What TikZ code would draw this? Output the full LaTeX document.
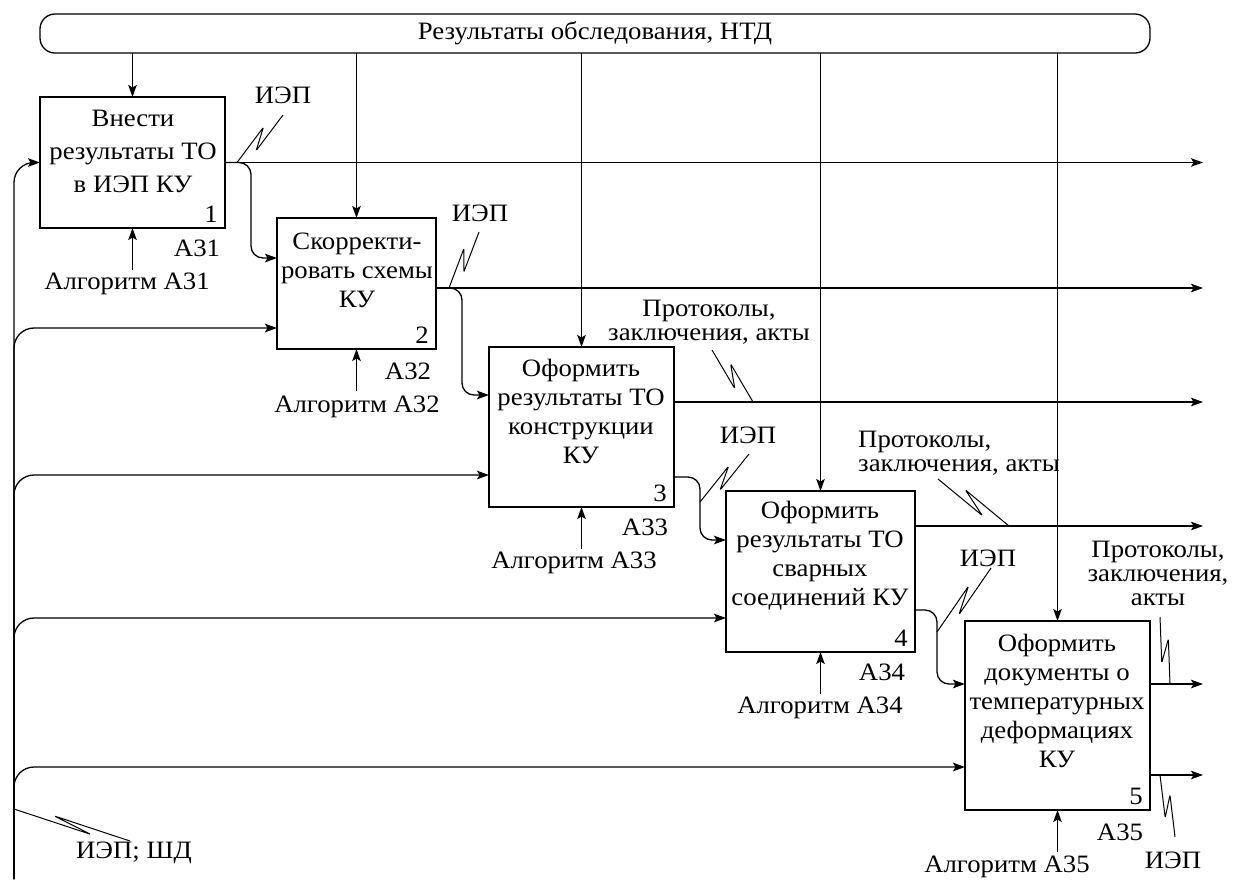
\documentclass[tikz,border=0pt]{standalone}
\usepackage{fontspec}
\setmainfont[FakeStretch=1.07]{Liberation Serif}
\usetikzlibrary{arrows.meta,calc}
% #1 start, #2 end, #3 side of the far hairpin (90 or -90), #4 offset
\newcommand\squigline[4]{\draw[squig] (#1) -- ($(#1)!0.67!(#2)!#4!#3:(#2)$) -- ($(#1)!0.34!(#2)!#4!-#3:(#2)$) -- (#2);}
\begin{document}
\begin{tikzpicture}[x=1pt,y=-1pt,
  box/.style={draw, line width=1.4pt, outer sep=0pt, inner sep=0pt, anchor=north west},
  btxt/.style={font=\fontsize{25}{29}\selectfont, align=center, inner sep=0pt},
  lbl/.style={font=\fontsize{25}{24}\selectfont, align=center, inner sep=0pt},
  num/.style={font=\fontsize{25}{29}\selectfont, inner sep=0pt},
  arr/.style={line width=1.3pt, -{Stealth[length=12pt,width=8.5pt,inset=2.5pt]}},
  squig/.style={line width=1pt, rounded corners=1.2pt},
]
\useasboundingbox (0,0) rectangle (1233,879);
\fill[white] (0,0) rectangle (1233,879);

% top bar
\node[draw, line width=1.3pt, rounded corners=15pt, minimum width=1110pt, minimum height=39pt,
      anchor=north west, outer sep=0pt, inner sep=0pt, font=\fontsize{25}{29}\selectfont]
      (bar) at (40,14) {Результаты обследования, НТД};

% boxes
\node[box, minimum width=185pt, minimum height=131pt] (b1) at (40,97) {};
\node[box, minimum width=159pt, minimum height=131pt] (b2) at (277,218) {};
\node[box, minimum width=185pt, minimum height=160pt] (b3) at (489,347) {};
\node[box, minimum width=189pt, minimum height=161pt] (b4) at (726,491) {};
\node[box, minimum width=185pt, minimum height=189pt] (b5) at (965,621) {};

% box texts
\node[btxt, font=\fontsize{25}{33}\selectfont] (t1) at (133,151) {Внести\\результаты ТО\\в ИЭП КУ};
\node[btxt] (t2) at (357,270) {Скорректи-\\ровать схемы\\КУ};
\node[btxt] (t3) at (581,411) {Оформить\\результаты ТО\\конструкции\\КУ};
\node[btxt] (t4) at (820,556) {Оформить\\результаты ТО\\сварных\\соединений КУ};
\node[btxt] (t5) at (1057,701) {Оформить\\документы о\\температурных\\деформациях\\КУ};

% box numbers
\node[num, anchor=south east] (n1) at ($(b1.south east)+(-7,-5)$) {1};
\node[num, anchor=south east] (n2) at ($(b2.south east)+(-7,-5)$) {2};
\node[num, anchor=south east] (n3) at ($(b3.south east)+(-7,-5)$) {3};
\node[num, anchor=south east] (n4) at ($(b4.south east)+(-7,-5)$) {4};
\node[num, anchor=south east] (n5) at ($(b5.south east)+(-7,-5)$) {5};

% controls from the top bar
\foreach \b in {b1,b2,b3,b4,b5}{
  \draw[arr] (bar.south -| \b.north) -- (\b.north);
}

% mechanisms (algorithms)
\foreach \b in {b1,b2,b3,b4,b5}{
  \coordinate (\b m) at ($(\b.south)+(0,42)$);
  \draw[arr] (\b m) -- (\b.south);
}
\node[lbl] (a1) at (197,248) {A31};
\node[lbl] (a2) at (408,371) {A32};
\node[lbl] (a3) at (645,527) {A33};
\node[lbl] (a4) at (882,672) {A34};
\node[lbl] (a5) at (1120,832) {A35};
\node[lbl] (g1) at (127,284) {Алгоритм A31};
\node[lbl] (g2) at (357,407) {Алгоритм A32};
\node[lbl] (g3) at (574,563) {Алгоритм A33};
\node[lbl] (g4) at (820,708) {Алгоритм A34};
\node[lbl] (g5) at (1007,867) {Алгоритм A35};

% left inputs
\coordinate (src) at (14,879);
\coordinate (re) at (1203,0);
\draw[arr, rounded corners=20pt] (src) |- (b1.west);
\draw[arr, rounded corners=20pt] (src) |- ($(b2.north west)+(0,110)$);
\draw[arr, rounded corners=20pt] (src) |- ($(b3.north west)+(0,128)$);
\draw[arr, rounded corners=20pt] (src) |- ($(b4.north west)+(0,127)$);
\draw[arr, rounded corners=20pt] (src) |- ($(b5.north west)+(0,146)$);

% outputs
\coordinate (p2) at ($(b2.north east)+(0,70)$);
\coordinate (p3) at ($(b3.north east)+(0,55)$);
\coordinate (q3) at ($(b3.north east)+(0,130)$);
\coordinate (p4) at ($(b4.north east)+(0,35)$);
\coordinate (q4) at ($(b4.north east)+(0,119)$);
\coordinate (p5) at ($(b5.north east)+(0,63)$);
\coordinate (q5) at ($(b5.north east)+(0,154)$);
\draw[arr] (b1.east) -- (b1.east -| re);
\draw[arr] (p2) -- (p2 -| re);
\draw[arr] (p3) -- (p3 -| re);
\draw[arr] (p4) -- (p4 -| re);
\draw[arr] (p5) -- (p5 -| re);
\draw[arr] (q5) -- (q5 -| re);

% branches to next box
\draw[arr, rounded corners=12pt] (b1.east) -- ++(26,0) |- ($(b2.north west)+(0,40)$);
\draw[arr, rounded corners=12pt] (p2) -- ++(26,0) |- ($(b3.north west)+(0,48)$);
\draw[arr, rounded corners=12pt] (q3) -- ++(26,0) |- ($(b4.north west)+(0,49)$);
\draw[arr, rounded corners=12pt] (q4) -- ++(22,0) |- (b5.west |- p5);

% labels with squiggles
\node[lbl] (l1) at (283,95) {ИЭП};
\coordinate (s1a) at (283,115); \coordinate (s1b) at (237,162.5);
\squigline{s1a}{s1b}{90}{5.5pt}
\node[lbl] (l2) at (480,213) {ИЭП};
\coordinate (s2a) at (479,232); \coordinate (s2b) at (449,288);
\squigline{s2a}{s2b}{90}{5.5pt}
\node[lbl] (l3) at (709,322) {Протоколы,\\заключения, акты};
\coordinate (s3a) at (712,350); \coordinate (s3b) at (753,402);
\squigline{s3a}{s3b}{-90}{6pt}
\node[lbl] (l4) at (748,435) {ИЭП};
\coordinate (s4a) at (749,454); \coordinate (s4b) at (700,502);
\squigline{s4a}{s4b}{90}{5.5pt}
\node[lbl, align=left, anchor=west] (l5) at (858,453) {Протоколы,\\заключения, акты};
\coordinate (s5a) at (938,479); \coordinate (s5b) at (1009,526);
\squigline{s5a}{s5b}{-90}{6pt}
\node[lbl] (l6) at (988,558) {ИЭП};
\coordinate (s6a) at (991,568); \coordinate (s6b) at (937,632);
\squigline{s6a}{s6b}{90}{5.5pt}
\node[lbl] (l7) at (1158,573) {Протоколы,\\заключения,\\акты};
\coordinate (s7a) at (1160,617); \coordinate (s7b) at (1170,684);
\squigline{s7a}{s7b}{-90}{5pt}
\node[lbl] (l8) at (1173,860) {ИЭП};
\coordinate (s8a) at (1175,837); \coordinate (s8b) at (1160,775);
\squigline{s8b}{s8a}{-90}{5pt}
\node[lbl] (l9) at (134,853) {ИЭП; ШД};
\coordinate (s9a) at (130,841); \coordinate (s9b) at (14,809);
\squigline{s9b}{s9a}{-90}{4pt}
\end{tikzpicture}
\end{document}
